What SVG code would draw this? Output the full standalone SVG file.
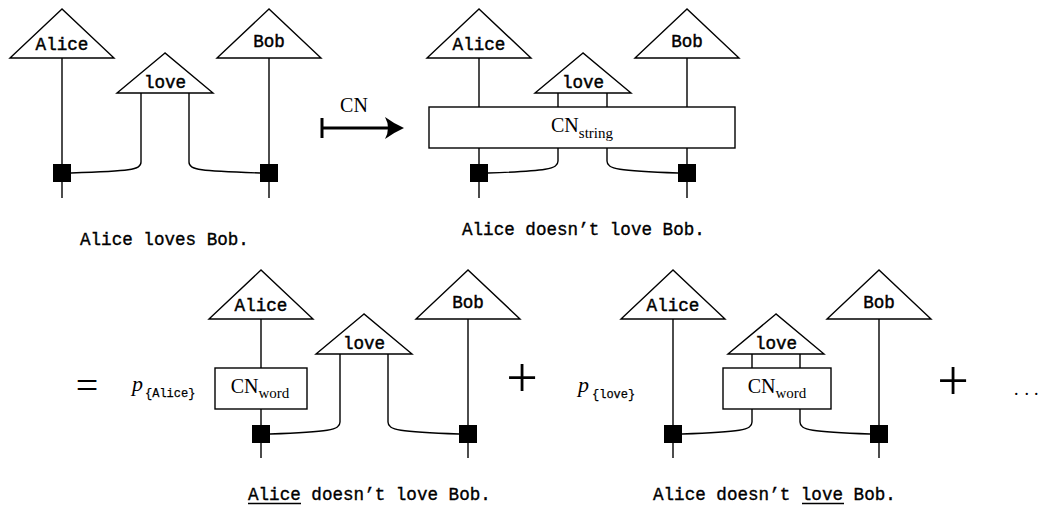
<svg xmlns="http://www.w3.org/2000/svg" width="1039" height="506" viewBox="0 0 1039 506">
<defs>
<style>
.tri{fill:#fff;stroke:#000;stroke-width:1.4;stroke-linejoin:miter}
.box{fill:#fff;stroke:#000;stroke-width:1.4}
.sq{fill:#000}
.w{fill:none;stroke:#000;stroke-width:1.4}
.tt{font-family:"Liberation Mono",monospace;font-size:17.6px;fill:#000;stroke:#000;stroke-width:0.35}
.lbl{font-family:"Liberation Mono",monospace;font-size:17.6px;fill:#000;stroke:#000;stroke-width:0.45;text-anchor:middle}
.rm{font-family:"Liberation Serif",serif;font-size:20px;fill:#000}
.sub{font-size:15px}
.pi{font-family:"Liberation Serif",serif;font-style:italic;font-size:22px;fill:#000}
.ps{font-family:"Liberation Mono",monospace;font-style:normal;font-size:12px;stroke:#000;stroke-width:0.25}
.ul{stroke:#000;stroke-width:1.6}
.op{font-family:"Liberation Serif",serif;fill:#000;text-anchor:middle}
</style>
</defs>
<rect width="1039" height="506" fill="#fff"/>

<!-- connectors -->
<g id="connectors">
<!-- top-left -->
<path class="w" d="M62,58 V198"/>
<path class="w" d="M269,58 V198"/>
<path class="w" d="M141,93 V162 C141,170 130,171 71,173"/>
<path class="w" d="M189,93 V162 C189,170 200,171 260,173"/>
<!-- top-right -->
<path class="w" d="M479,58 V107 M479,148 V198"/>
<path class="w" d="M687,58 V107 M687,148 V198"/>
<path class="w" d="M558,93 V107 M607,93 V107"/>
<path class="w" d="M558,148 V161 C558,169 547,171 488,173"/>
<path class="w" d="M607,148 V161 C607,169 618,171 678,173"/>
<!-- mapsto arrow -->
<path d="M322,118 V138" stroke="#000" stroke-width="3" fill="none"/>
<path d="M322,128 H393" stroke="#000" stroke-width="3" fill="none"/>
<path d="M404,128 Q393,123 385,117 Q391,128 385,139 Q393,133 404,128 Z" fill="#000"/>
<!-- bottom-left -->
<path class="w" d="M261,319 V368 M261,409 V458"/>
<path class="w" d="M468,319 V458"/>
<path class="w" d="M340,354 V422 C340,430 329,432 270,434"/>
<path class="w" d="M388,354 V422 C388,430 399,432 459,434"/>
<!-- bottom-right -->
<path class="w" d="M673,319 V458"/>
<path class="w" d="M879,319 V458"/>
<path class="w" d="M752,354 V368 M800,354 V368"/>
<path class="w" d="M752,409 V422 C752,430 741,432 682,434"/>
<path class="w" d="M800,409 V422 C800,430 811,432 870,434"/>
</g>

<!-- top-left diagram -->
<g id="tl-alice"><polygon class="tri" points="62,9 10,58 114,58"/><text class="lbl" x="62" y="50">Alice</text></g>
<g id="tl-love"><polygon class="tri" points="165,53 117,93 213,93"/><text class="lbl" x="165" y="88">love</text></g>
<g id="tl-bob"><polygon class="tri" points="269,9 217,58 321,58"/><text class="lbl" x="269" y="47">Bob</text></g>
<g id="tl-sq1"><rect class="sq" x="53" y="164" width="18" height="18"/></g>
<g id="tl-sq2"><rect class="sq" x="260" y="164" width="18" height="18"/></g>
<text id="tl-sentence" class="tt" x="80" y="245">Alice loves Bob.</text>

<!-- arrow label -->
<text id="arrow-label" class="rm" x="354" y="112" text-anchor="middle">CN</text>

<!-- top-right diagram -->
<g id="tr-alice"><polygon class="tri" points="479,9 427,58 531,58"/><text class="lbl" x="479" y="50">Alice</text></g>
<g id="tr-love"><polygon class="tri" points="583,53 535,93 631,93"/><text class="lbl" x="583" y="88">love</text></g>
<g id="tr-bob"><polygon class="tri" points="687,9 635,58 739,58"/><text class="lbl" x="687" y="47">Bob</text></g>
<g id="tr-cnstring"><rect class="box" x="429" y="107" width="306" height="41"/><text class="rm" x="582" y="132" text-anchor="middle">CN<tspan class="sub" dy="6">string</tspan></text></g>
<g id="tr-sq1"><rect class="sq" x="470" y="164" width="18" height="18"/></g>
<g id="tr-sq2"><rect class="sq" x="678" y="164" width="18" height="18"/></g>
<text id="tr-sentence" class="tt" x="462" y="234.5">Alice doesn’t love Bob.</text>

<!-- bottom-left -->
<text id="eq" class="op" x="87" y="399" font-size="40">=</text>
<text id="bl-p" class="pi" x="132" y="391">p<tspan class="ps" x="145" y="397">{Alice}</tspan></text>
<g id="bl-alice"><polygon class="tri" points="261,270 209,319 313,319"/><text class="lbl" x="261" y="311">Alice</text></g>
<g id="bl-love"><polygon class="tri" points="364,314 316,354 412,354"/><text class="lbl" x="364" y="349">love</text></g>
<g id="bl-bob"><polygon class="tri" points="468,270 416,319 520,319"/><text class="lbl" x="468" y="308">Bob</text></g>
<g id="bl-cnword"><rect class="box" x="215" y="368" width="92" height="41"/><text class="rm" x="260" y="393" text-anchor="middle">CN<tspan class="sub" dy="5">word</tspan></text></g>
<g id="bl-sq1"><rect class="sq" x="252" y="425" width="18" height="18"/></g>
<g id="bl-sq2"><rect class="sq" x="459" y="425" width="18" height="18"/></g>
<text id="plus1" class="op" x="522" y="397" font-size="56">+</text>
<g id="bl-sentence"><text class="tt" x="248" y="499.5">Alice doesn’t love Bob.</text><line class="ul" x1="248" y1="503.5" x2="301" y2="503.5"/></g>

<!-- bottom-right -->
<text id="br-p" class="pi" x="578" y="392">p<tspan class="ps" x="592" y="398">{love}</tspan></text>
<g id="br-alice"><polygon class="tri" points="673,270 621,319 725,319"/><text class="lbl" x="673" y="311">Alice</text></g>
<g id="br-love"><polygon class="tri" points="776,314 728,354 824,354"/><text class="lbl" x="776" y="349">love</text></g>
<g id="br-bob"><polygon class="tri" points="879,270 827,319 931,319"/><text class="lbl" x="879" y="308">Bob</text></g>
<g id="br-cnword"><rect class="box" x="723" y="368" width="108" height="41"/><text class="rm" x="777" y="393" text-anchor="middle">CN<tspan class="sub" dy="5">word</tspan></text></g>
<g id="br-sq1"><rect class="sq" x="664" y="425" width="18" height="18"/></g>
<g id="br-sq2"><rect class="sq" x="870" y="425" width="18" height="18"/></g>
<text id="plus2" class="op" x="953" y="400" font-size="56">+</text>
<text id="dots" x="1014 1024.5 1034" y="395" font-family="Liberation Serif, serif" font-size="18">...</text>
<g id="br-sentence"><text class="tt" x="653" y="499.5">Alice doesn’t love Bob.</text><line class="ul" x1="802" y1="503.5" x2="844" y2="503.5"/></g>
</svg>
